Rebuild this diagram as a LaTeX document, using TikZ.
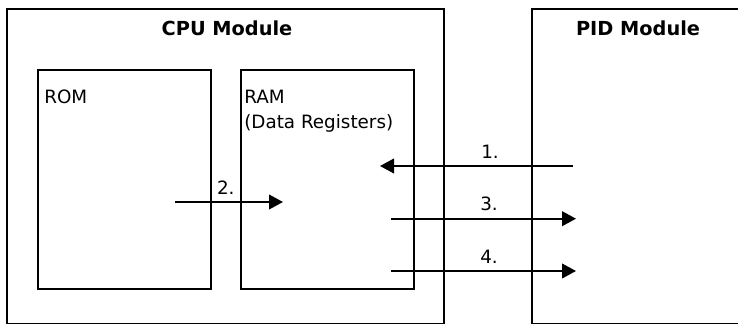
\documentclass[tikz,border=0pt]{standalone}
\usepackage{fontspec}
\setmainfont{DejaVu Sans}
\usetikzlibrary{arrows.meta}
\begin{document}
\begin{tikzpicture}[x=0.75pt,y=-0.75pt,
    box/.style={draw,line width=1.4pt,inner sep=0pt,anchor=north west},
    title/.style={font=\fontsize{14.5}{17}\selectfont\bfseries,anchor=base,inner sep=0pt},
    txt/.style={font=\fontsize{13.75}{17}\selectfont,anchor=base west,inner sep=0pt},
    flow/.style={line width=1.4pt,-{Triangle[length=10.5pt,width=11pt]}},
    num/.style={font=\fontsize{13.75}{17}\selectfont,anchor=base,inner sep=0pt,yshift=6pt}]
    \useasboundingbox (0,0) rectangle (738,324);
    \clip (0,0) rectangle (738,324);
    % modules
    \node[box,minimum width=327.75pt,minimum height=236.25pt] (cpu) at (6,8) {};
    \node[box,minimum width=165pt,minimum height=236.25pt] (pid) at (531,8) {};
    \node[box,minimum width=129.75pt,minimum height=164.25pt] (rom) at (37,69) {};
    \node[box,minimum width=129.75pt,minimum height=164.25pt] (ram) at (240,69) {};
    \node[title] (cputitle) at (227,35.5) {CPU Module};
    \node[title] (pidtitle) at (638,36) {PID Module};
    \node[txt] (romtext) at (44,104) {ROM};
    \node[txt] (ramtext) at (244,104) {RAM};
    \node[txt] (regtext) at (244,129) {(Data Registers)};
    % transfer arrows
    \coordinate (A1) at (573,166);
    \coordinate (B1) at (380,166);
    \coordinate (A2) at (175,202);
    \coordinate (B2) at (283,202);
    \coordinate (A3) at (391,218.7);
    \coordinate (B3) at (576,218.7);
    \coordinate (A4) at (391,271);
    \coordinate (B4) at (576,271);
    \draw[flow] (A1) -- node[num,pos=0.43] (n1) {1.} (B1);
    \draw[flow] (A2) -- node[num,pos=0.47] (n2) {2.} (B2);
    \draw[flow] (A3) -- node[num,pos=0.53] (n3) {3.} (B3);
    \draw[flow] (A4) -- node[num,pos=0.53] (n4) {4.} (B4);
\end{tikzpicture}
\end{document}
